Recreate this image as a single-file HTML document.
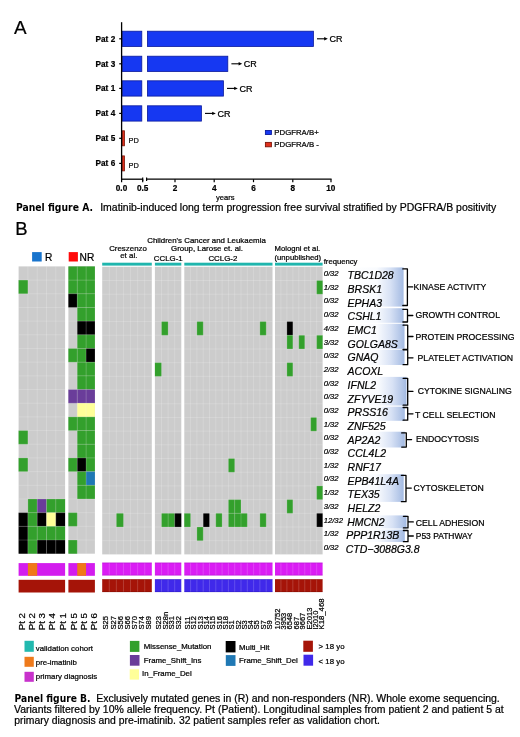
<!DOCTYPE html>
<html lang="en"><head><meta charset="utf-8"><title>Figure</title>
<style>
html,body{margin:0;padding:0;background:#fff;}
body{width:520px;height:737px;overflow:hidden;font-family:"Liberation Sans",Arial,Helvetica,sans-serif;}
svg{display:block;}
svg text{font-family:"Liberation Sans",Arial,Helvetica,sans-serif;stroke:#000;stroke-width:0.22px;stroke-linejoin:round;}
</style></head><body>
<svg width="520" height="737" viewBox="0 0 520 737">
<rect width="520" height="737" fill="#fff"/>
<g id="panelA">
<text x="13.90" y="33.90" font-size="18.9">A</text>
<text x="115.20" y="41.50" font-size="8.2" text-anchor="end" font-weight="bold">Pat 2</text>
<line x1="119.20" y1="38.80" x2="121.60" y2="38.80" stroke="#000" stroke-width="1.2"/>
<rect x="122.20" y="31.20" width="19.60" height="15.30" fill="#1638f2" stroke="#0a1a9c" stroke-width="0.8"/>
<rect x="147.40" y="31.20" width="166.00" height="15.30" fill="#1638f2" stroke="#0a1a9c" stroke-width="0.8"/>
<line x1="317.00" y1="38.80" x2="325.30" y2="38.80" stroke="#000" stroke-width="1.1"/>
<path d="M327.80 38.80 L324.20 37.10 L324.20 40.50 Z" fill="#000"/>
<text x="329.40" y="42.10" font-size="9">CR</text>
<text x="115.20" y="66.50" font-size="8.2" text-anchor="end" font-weight="bold">Pat 3</text>
<line x1="119.20" y1="63.80" x2="121.60" y2="63.80" stroke="#000" stroke-width="1.2"/>
<rect x="122.20" y="56.20" width="19.60" height="15.30" fill="#1638f2" stroke="#0a1a9c" stroke-width="0.8"/>
<rect x="147.40" y="56.20" width="80.40" height="15.30" fill="#1638f2" stroke="#0a1a9c" stroke-width="0.8"/>
<line x1="231.40" y1="63.80" x2="239.70" y2="63.80" stroke="#000" stroke-width="1.1"/>
<path d="M242.20 63.80 L238.60 62.10 L238.60 65.50 Z" fill="#000"/>
<text x="243.80" y="67.10" font-size="9">CR</text>
<text x="115.20" y="91.10" font-size="8.2" text-anchor="end" font-weight="bold">Pat 1</text>
<line x1="119.20" y1="88.40" x2="121.60" y2="88.40" stroke="#000" stroke-width="1.2"/>
<rect x="122.20" y="80.80" width="19.60" height="15.30" fill="#1638f2" stroke="#0a1a9c" stroke-width="0.8"/>
<rect x="147.40" y="80.80" width="76.00" height="15.30" fill="#1638f2" stroke="#0a1a9c" stroke-width="0.8"/>
<line x1="227.00" y1="88.40" x2="235.30" y2="88.40" stroke="#000" stroke-width="1.1"/>
<path d="M237.80 88.40 L234.20 86.70 L234.20 90.10 Z" fill="#000"/>
<text x="239.40" y="91.70" font-size="9">CR</text>
<text x="115.20" y="116.10" font-size="8.2" text-anchor="end" font-weight="bold">Pat 4</text>
<line x1="119.20" y1="113.40" x2="121.60" y2="113.40" stroke="#000" stroke-width="1.2"/>
<rect x="122.20" y="105.80" width="19.60" height="15.30" fill="#1638f2" stroke="#0a1a9c" stroke-width="0.8"/>
<rect x="147.40" y="105.80" width="54.00" height="15.30" fill="#1638f2" stroke="#0a1a9c" stroke-width="0.8"/>
<line x1="205.00" y1="113.40" x2="213.30" y2="113.40" stroke="#000" stroke-width="1.1"/>
<path d="M215.80 113.40 L212.20 111.70 L212.20 115.10 Z" fill="#000"/>
<text x="217.40" y="116.70" font-size="9">CR</text>
<text x="115.20" y="141.00" font-size="8.2" text-anchor="end" font-weight="bold">Pat 5</text>
<line x1="119.20" y1="138.30" x2="121.60" y2="138.30" stroke="#000" stroke-width="1.2"/>
<rect x="122.10" y="130.80" width="2.40" height="15.00" fill="#e0301c" stroke="#7a1408" stroke-width="0.8"/>
<text x="128.60" y="142.50" font-size="7.4" fill="#222">PD</text>
<text x="115.20" y="166.10" font-size="8.2" text-anchor="end" font-weight="bold">Pat 6</text>
<line x1="119.20" y1="163.40" x2="121.60" y2="163.40" stroke="#000" stroke-width="1.2"/>
<rect x="122.10" y="155.90" width="2.40" height="15.00" fill="#e0301c" stroke="#7a1408" stroke-width="0.8"/>
<text x="128.60" y="167.60" font-size="7.4" fill="#222">PD</text>
<line x1="121.60" y1="22.20" x2="121.60" y2="179.80" stroke="#000" stroke-width="1.3"/>
<line x1="121.00" y1="179.20" x2="142.80" y2="179.20" stroke="#000" stroke-width="1.3"/>
<line x1="142.70" y1="177.60" x2="142.70" y2="181.00" stroke="#000" stroke-width="1.2"/>
<line x1="146.60" y1="177.60" x2="146.60" y2="181.00" stroke="#000" stroke-width="1.2"/>
<line x1="146.00" y1="179.20" x2="331.60" y2="179.20" stroke="#000" stroke-width="1.3"/>
<line x1="121.60" y1="179.20" x2="121.60" y2="182.20" stroke="#000" stroke-width="1.2"/>
<line x1="142.70" y1="179.20" x2="142.70" y2="182.20" stroke="#000" stroke-width="1.2"/>
<line x1="175.00" y1="179.20" x2="175.00" y2="182.20" stroke="#000" stroke-width="1.2"/>
<line x1="214.20" y1="179.20" x2="214.20" y2="182.20" stroke="#000" stroke-width="1.2"/>
<line x1="253.50" y1="179.20" x2="253.50" y2="182.20" stroke="#000" stroke-width="1.2"/>
<line x1="292.80" y1="179.20" x2="292.80" y2="182.20" stroke="#000" stroke-width="1.2"/>
<line x1="331.00" y1="179.20" x2="331.00" y2="182.20" stroke="#000" stroke-width="1.2"/>
<text x="121.50" y="190.50" font-size="8.2" text-anchor="middle" font-weight="bold">0.0</text>
<text x="142.60" y="190.50" font-size="8.2" text-anchor="middle" font-weight="bold">0.5</text>
<text x="175.00" y="190.50" font-size="8.2" text-anchor="middle" font-weight="bold">2</text>
<text x="214.20" y="190.50" font-size="8.2" text-anchor="middle" font-weight="bold">4</text>
<text x="253.50" y="190.50" font-size="8.2" text-anchor="middle" font-weight="bold">6</text>
<text x="292.80" y="190.50" font-size="8.2" text-anchor="middle" font-weight="bold">8</text>
<text x="330.80" y="190.50" font-size="8.2" text-anchor="middle" font-weight="bold">10</text>
<text x="225.20" y="200.20" font-size="7.6" text-anchor="middle">years</text>
<rect x="265.4" y="130.5" width="6.0" height="4.0" fill="#1638f2" stroke="#0a1a9c" stroke-width="0.9"/>
<text x="274.30" y="135.10" font-size="7.8">PDGFRA/B+</text>
<rect x="265.4" y="142.4" width="6.0" height="4.4" fill="#e0301c" stroke="#7a1408" stroke-width="0.9"/>
<text x="274.30" y="147.20" font-size="7.8">PDGFRA/B -</text>
</g>
<g id="capA">
<text x="16.0" y="210.5" font-size="10.3" style="font-family:'DejaVu Sans Condensed','DejaVu Sans',Verdana,sans-serif;stroke:none" font-weight="bold" textLength="77" lengthAdjust="spacingAndGlyphs">Panel figure A.</text>
<text x="100.20" y="210.50" font-size="10.45" textLength="396.00" lengthAdjust="spacingAndGlyphs">Imatinib-induced long term progression free survival stratified by PDGFRA/B positivity</text>
</g>
<g id="panelB">
<text x="15.20" y="234.60" font-size="18.5">B</text>
<rect x="18.60" y="266.40" width="46.50" height="287.30" fill="#cccccc"/>
<rect x="18.60" y="280.08" width="9.30" height="13.68" fill="#33a02c"/>
<rect x="18.60" y="430.57" width="9.30" height="13.68" fill="#33a02c"/>
<rect x="18.60" y="457.93" width="9.30" height="13.68" fill="#33a02c"/>
<rect x="27.90" y="498.98" width="9.30" height="13.68" fill="#33a02c"/>
<rect x="37.20" y="498.98" width="9.30" height="13.68" fill="#6a3d9a"/>
<rect x="46.50" y="498.98" width="9.30" height="13.68" fill="#33a02c"/>
<rect x="55.80" y="498.98" width="9.30" height="13.68" fill="#33a02c"/>
<rect x="18.60" y="512.66" width="9.30" height="13.68" fill="#000000"/>
<rect x="27.90" y="512.66" width="9.30" height="13.68" fill="#33a02c"/>
<rect x="37.20" y="512.66" width="9.30" height="13.68" fill="#000000"/>
<rect x="46.50" y="512.66" width="9.30" height="13.68" fill="#ffff99"/>
<rect x="55.80" y="512.66" width="9.30" height="13.68" fill="#000000"/>
<rect x="18.60" y="526.34" width="9.30" height="13.68" fill="#000000"/>
<rect x="27.90" y="526.34" width="9.30" height="13.68" fill="#33a02c"/>
<rect x="37.20" y="526.34" width="9.30" height="13.68" fill="#33a02c"/>
<rect x="46.50" y="526.34" width="9.30" height="13.68" fill="#33a02c"/>
<rect x="55.80" y="526.34" width="9.30" height="13.68" fill="#33a02c"/>
<rect x="18.60" y="540.02" width="9.30" height="13.68" fill="#000000"/>
<rect x="27.90" y="540.02" width="9.30" height="13.68" fill="#33a02c"/>
<rect x="37.20" y="540.02" width="9.30" height="13.68" fill="#000000"/>
<rect x="46.50" y="540.02" width="9.30" height="13.68" fill="#000000"/>
<rect x="55.80" y="540.02" width="9.30" height="13.68" fill="#000000"/>
<path d="M27.90 266.40V553.70M37.20 266.40V553.70M46.50 266.40V553.70M55.80 266.40V553.70M18.60 280.08H65.10M18.60 293.76H65.10M18.60 307.44H65.10M18.60 321.12H65.10M18.60 334.80H65.10M18.60 348.49H65.10M18.60 362.17H65.10M18.60 375.85H65.10M18.60 389.53H65.10M18.60 403.21H65.10M18.60 416.89H65.10M18.60 430.57H65.10M18.60 444.25H65.10M18.60 457.93H65.10M18.60 471.61H65.10M18.60 485.30H65.10M18.60 498.98H65.10M18.60 512.66H65.10M18.60 526.34H65.10M18.60 540.02H65.10" stroke="#fff" stroke-width="0.45" stroke-opacity="0.4" fill="none"/>
<rect x="68.40" y="266.40" width="26.50" height="287.30" fill="#cccccc"/>
<rect x="68.40" y="266.40" width="8.83" height="13.68" fill="#33a02c"/>
<rect x="77.23" y="266.40" width="8.83" height="13.68" fill="#33a02c"/>
<rect x="86.07" y="266.40" width="8.83" height="13.68" fill="#33a02c"/>
<rect x="68.40" y="280.08" width="8.83" height="13.68" fill="#33a02c"/>
<rect x="77.23" y="280.08" width="8.83" height="13.68" fill="#33a02c"/>
<rect x="86.07" y="280.08" width="8.83" height="13.68" fill="#33a02c"/>
<rect x="68.40" y="293.76" width="8.83" height="13.68" fill="#000000"/>
<rect x="77.23" y="293.76" width="8.83" height="13.68" fill="#33a02c"/>
<rect x="86.07" y="293.76" width="8.83" height="13.68" fill="#33a02c"/>
<rect x="77.23" y="307.44" width="8.83" height="13.68" fill="#33a02c"/>
<rect x="86.07" y="307.44" width="8.83" height="13.68" fill="#33a02c"/>
<rect x="77.23" y="321.12" width="8.83" height="13.68" fill="#000000"/>
<rect x="86.07" y="321.12" width="8.83" height="13.68" fill="#000000"/>
<rect x="77.23" y="334.80" width="8.83" height="13.68" fill="#33a02c"/>
<rect x="86.07" y="334.80" width="8.83" height="13.68" fill="#33a02c"/>
<rect x="68.40" y="348.49" width="8.83" height="13.68" fill="#33a02c"/>
<rect x="77.23" y="348.49" width="8.83" height="13.68" fill="#33a02c"/>
<rect x="86.07" y="348.49" width="8.83" height="13.68" fill="#000000"/>
<rect x="77.23" y="362.17" width="8.83" height="13.68" fill="#33a02c"/>
<rect x="86.07" y="362.17" width="8.83" height="13.68" fill="#33a02c"/>
<rect x="77.23" y="375.85" width="8.83" height="13.68" fill="#33a02c"/>
<rect x="86.07" y="375.85" width="8.83" height="13.68" fill="#33a02c"/>
<rect x="68.40" y="389.53" width="8.83" height="13.68" fill="#6a3d9a"/>
<rect x="77.23" y="389.53" width="8.83" height="13.68" fill="#6a3d9a"/>
<rect x="86.07" y="389.53" width="8.83" height="13.68" fill="#6a3d9a"/>
<rect x="77.23" y="403.21" width="8.83" height="13.68" fill="#ffff99"/>
<rect x="86.07" y="403.21" width="8.83" height="13.68" fill="#ffff99"/>
<rect x="68.40" y="416.89" width="8.83" height="13.68" fill="#33a02c"/>
<rect x="77.23" y="416.89" width="8.83" height="13.68" fill="#33a02c"/>
<rect x="86.07" y="416.89" width="8.83" height="13.68" fill="#33a02c"/>
<rect x="77.23" y="430.57" width="8.83" height="13.68" fill="#33a02c"/>
<rect x="86.07" y="430.57" width="8.83" height="13.68" fill="#33a02c"/>
<rect x="77.23" y="444.25" width="8.83" height="13.68" fill="#33a02c"/>
<rect x="86.07" y="444.25" width="8.83" height="13.68" fill="#33a02c"/>
<rect x="68.40" y="457.93" width="8.83" height="13.68" fill="#33a02c"/>
<rect x="77.23" y="457.93" width="8.83" height="13.68" fill="#000000"/>
<rect x="86.07" y="457.93" width="8.83" height="13.68" fill="#33a02c"/>
<rect x="77.23" y="471.61" width="8.83" height="13.68" fill="#33a02c"/>
<rect x="86.07" y="471.61" width="8.83" height="13.68" fill="#1f78b4"/>
<rect x="77.23" y="485.30" width="8.83" height="13.68" fill="#33a02c"/>
<rect x="86.07" y="485.30" width="8.83" height="13.68" fill="#33a02c"/>
<rect x="68.40" y="512.66" width="8.83" height="13.68" fill="#33a02c"/>
<rect x="68.40" y="540.02" width="8.83" height="13.68" fill="#33a02c"/>
<path d="M77.23 266.40V553.70M86.07 266.40V553.70M68.40 280.08H94.90M68.40 293.76H94.90M68.40 307.44H94.90M68.40 321.12H94.90M68.40 334.80H94.90M68.40 348.49H94.90M68.40 362.17H94.90M68.40 375.85H94.90M68.40 389.53H94.90M68.40 403.21H94.90M68.40 416.89H94.90M68.40 430.57H94.90M68.40 444.25H94.90M68.40 457.93H94.90M68.40 471.61H94.90M68.40 485.30H94.90M68.40 498.98H94.90M68.40 512.66H94.90M68.40 526.34H94.90M68.40 540.02H94.90" stroke="#fff" stroke-width="0.45" stroke-opacity="0.4" fill="none"/>
<rect x="102.20" y="266.80" width="49.60" height="287.60" fill="#cccccc"/>
<rect x="116.37" y="513.31" width="7.09" height="13.70" fill="#33a02c"/>
<path d="M109.29 266.80V554.40M116.37 266.80V554.40M123.46 266.80V554.40M130.54 266.80V554.40M137.63 266.80V554.40M144.71 266.80V554.40M102.20 280.50H151.80M102.20 294.19H151.80M102.20 307.89H151.80M102.20 321.58H151.80M102.20 335.28H151.80M102.20 348.97H151.80M102.20 362.67H151.80M102.20 376.36H151.80M102.20 390.06H151.80M102.20 403.75H151.80M102.20 417.45H151.80M102.20 431.14H151.80M102.20 444.84H151.80M102.20 458.53H151.80M102.20 472.23H151.80M102.20 485.92H151.80M102.20 499.62H151.80M102.20 513.31H151.80M102.20 527.01H151.80M102.20 540.70H151.80" stroke="#fff" stroke-width="0.45" stroke-opacity="0.4" fill="none"/>
<rect x="154.90" y="266.80" width="26.40" height="287.60" fill="#cccccc"/>
<rect x="161.50" y="321.58" width="6.60" height="13.70" fill="#33a02c"/>
<rect x="154.90" y="362.67" width="6.60" height="13.70" fill="#33a02c"/>
<rect x="161.50" y="513.31" width="6.60" height="13.70" fill="#33a02c"/>
<rect x="168.10" y="513.31" width="6.60" height="13.70" fill="#33a02c"/>
<rect x="174.70" y="513.31" width="6.60" height="13.70" fill="#000000"/>
<path d="M161.50 266.80V554.40M168.10 266.80V554.40M174.70 266.80V554.40M154.90 280.50H181.30M154.90 294.19H181.30M154.90 307.89H181.30M154.90 321.58H181.30M154.90 335.28H181.30M154.90 348.97H181.30M154.90 362.67H181.30M154.90 376.36H181.30M154.90 390.06H181.30M154.90 403.75H181.30M154.90 417.45H181.30M154.90 431.14H181.30M154.90 444.84H181.30M154.90 458.53H181.30M154.90 472.23H181.30M154.90 485.92H181.30M154.90 499.62H181.30M154.90 513.31H181.30M154.90 527.01H181.30M154.90 540.70H181.30" stroke="#fff" stroke-width="0.45" stroke-opacity="0.4" fill="none"/>
<rect x="184.30" y="266.80" width="88.20" height="287.60" fill="#cccccc"/>
<rect x="196.90" y="321.58" width="6.30" height="13.70" fill="#33a02c"/>
<rect x="259.90" y="321.58" width="6.30" height="13.70" fill="#33a02c"/>
<rect x="228.40" y="458.53" width="6.30" height="13.70" fill="#33a02c"/>
<rect x="228.40" y="499.62" width="6.30" height="13.70" fill="#33a02c"/>
<rect x="234.70" y="499.62" width="6.30" height="13.70" fill="#33a02c"/>
<rect x="184.30" y="513.31" width="6.30" height="13.70" fill="#33a02c"/>
<rect x="203.20" y="513.31" width="6.30" height="13.70" fill="#000000"/>
<rect x="215.80" y="513.31" width="6.30" height="13.70" fill="#33a02c"/>
<rect x="228.40" y="513.31" width="6.30" height="13.70" fill="#33a02c"/>
<rect x="234.70" y="513.31" width="6.30" height="13.70" fill="#33a02c"/>
<rect x="241.00" y="513.31" width="6.30" height="13.70" fill="#33a02c"/>
<rect x="259.90" y="513.31" width="6.30" height="13.70" fill="#33a02c"/>
<rect x="196.90" y="527.01" width="6.30" height="13.70" fill="#33a02c"/>
<path d="M190.60 266.80V554.40M196.90 266.80V554.40M203.20 266.80V554.40M209.50 266.80V554.40M215.80 266.80V554.40M222.10 266.80V554.40M228.40 266.80V554.40M234.70 266.80V554.40M241.00 266.80V554.40M247.30 266.80V554.40M253.60 266.80V554.40M259.90 266.80V554.40M266.20 266.80V554.40M184.30 280.50H272.50M184.30 294.19H272.50M184.30 307.89H272.50M184.30 321.58H272.50M184.30 335.28H272.50M184.30 348.97H272.50M184.30 362.67H272.50M184.30 376.36H272.50M184.30 390.06H272.50M184.30 403.75H272.50M184.30 417.45H272.50M184.30 431.14H272.50M184.30 444.84H272.50M184.30 458.53H272.50M184.30 472.23H272.50M184.30 485.92H272.50M184.30 499.62H272.50M184.30 513.31H272.50M184.30 527.01H272.50M184.30 540.70H272.50" stroke="#fff" stroke-width="0.45" stroke-opacity="0.4" fill="none"/>
<rect x="275.00" y="266.80" width="47.60" height="287.60" fill="#cccccc"/>
<rect x="316.65" y="280.50" width="5.95" height="13.70" fill="#33a02c"/>
<rect x="286.90" y="321.58" width="5.95" height="13.70" fill="#000000"/>
<rect x="286.90" y="335.28" width="5.95" height="13.70" fill="#33a02c"/>
<rect x="298.80" y="335.28" width="5.95" height="13.70" fill="#33a02c"/>
<rect x="316.65" y="335.28" width="5.95" height="13.70" fill="#33a02c"/>
<rect x="286.90" y="362.67" width="5.95" height="13.70" fill="#33a02c"/>
<rect x="310.70" y="417.45" width="5.95" height="13.70" fill="#33a02c"/>
<rect x="316.65" y="485.92" width="5.95" height="13.70" fill="#33a02c"/>
<rect x="286.90" y="499.62" width="5.95" height="13.70" fill="#33a02c"/>
<rect x="316.65" y="513.31" width="5.95" height="13.70" fill="#000000"/>
<path d="M280.95 266.80V554.40M286.90 266.80V554.40M292.85 266.80V554.40M298.80 266.80V554.40M304.75 266.80V554.40M310.70 266.80V554.40M316.65 266.80V554.40M275.00 280.50H322.60M275.00 294.19H322.60M275.00 307.89H322.60M275.00 321.58H322.60M275.00 335.28H322.60M275.00 348.97H322.60M275.00 362.67H322.60M275.00 376.36H322.60M275.00 390.06H322.60M275.00 403.75H322.60M275.00 417.45H322.60M275.00 431.14H322.60M275.00 444.84H322.60M275.00 458.53H322.60M275.00 472.23H322.60M275.00 485.92H322.60M275.00 499.62H322.60M275.00 513.31H322.60M275.00 527.01H322.60M275.00 540.70H322.60" stroke="#fff" stroke-width="0.45" stroke-opacity="0.4" fill="none"/>
<rect x="18.60" y="563.10" width="46.50" height="12.70" fill="#d31cee"/>
<rect x="27.90" y="563.10" width="9.30" height="12.70" fill="#f07818"/>
<rect x="18.60" y="579.80" width="46.50" height="12.70" fill="#a51408"/>
<rect x="68.40" y="563.10" width="26.50" height="12.70" fill="#d31cee"/>
<rect x="77.23" y="563.10" width="8.83" height="12.70" fill="#f07818"/>
<rect x="68.40" y="579.80" width="26.50" height="12.70" fill="#a51408"/>
<rect x="102.20" y="562.70" width="49.60" height="12.70" fill="#da1cf4"/>
<rect x="102.20" y="579.30" width="49.60" height="12.70" fill="#a51408"/>
<path d="M109.29 562.70V575.40M109.29 579.30V592.00M116.37 562.70V575.40M116.37 579.30V592.00M123.46 562.70V575.40M123.46 579.30V592.00M130.54 562.70V575.40M130.54 579.30V592.00M137.63 562.70V575.40M137.63 579.30V592.00M144.71 562.70V575.40M144.71 579.30V592.00" stroke="#fff" stroke-width="0.4" stroke-opacity="0.45" fill="none"/>
<path d="M102.20 562.95H151.80M102.20 575.15H151.80" stroke="#9c14b4" stroke-width="0.5" stroke-opacity="0.7" fill="none"/>
<path d="M102.20 579.55H151.80M102.20 591.75H151.80" stroke="#6e0a04" stroke-width="0.5" stroke-opacity="0.7" fill="none"/>
<rect x="102.20" y="262.70" width="49.60" height="2.90" fill="#1fb5ad"/>
<rect x="154.90" y="562.70" width="26.40" height="12.70" fill="#da1cf4"/>
<rect x="154.90" y="579.30" width="26.40" height="12.70" fill="#4029ea"/>
<path d="M161.50 562.70V575.40M161.50 579.30V592.00M168.10 562.70V575.40M168.10 579.30V592.00M174.70 562.70V575.40M174.70 579.30V592.00" stroke="#fff" stroke-width="0.4" stroke-opacity="0.45" fill="none"/>
<path d="M154.90 562.95H181.30M154.90 575.15H181.30" stroke="#9c14b4" stroke-width="0.5" stroke-opacity="0.7" fill="none"/>
<path d="M154.90 579.55H181.30M154.90 591.75H181.30" stroke="#2414a8" stroke-width="0.5" stroke-opacity="0.7" fill="none"/>
<rect x="154.90" y="262.70" width="26.40" height="2.90" fill="#1fb5ad"/>
<rect x="184.30" y="562.70" width="88.20" height="12.70" fill="#da1cf4"/>
<rect x="184.30" y="579.30" width="88.20" height="12.70" fill="#4029ea"/>
<path d="M190.60 562.70V575.40M190.60 579.30V592.00M196.90 562.70V575.40M196.90 579.30V592.00M203.20 562.70V575.40M203.20 579.30V592.00M209.50 562.70V575.40M209.50 579.30V592.00M215.80 562.70V575.40M215.80 579.30V592.00M222.10 562.70V575.40M222.10 579.30V592.00M228.40 562.70V575.40M228.40 579.30V592.00M234.70 562.70V575.40M234.70 579.30V592.00M241.00 562.70V575.40M241.00 579.30V592.00M247.30 562.70V575.40M247.30 579.30V592.00M253.60 562.70V575.40M253.60 579.30V592.00M259.90 562.70V575.40M259.90 579.30V592.00M266.20 562.70V575.40M266.20 579.30V592.00" stroke="#fff" stroke-width="0.4" stroke-opacity="0.45" fill="none"/>
<path d="M184.30 562.95H272.50M184.30 575.15H272.50" stroke="#9c14b4" stroke-width="0.5" stroke-opacity="0.7" fill="none"/>
<path d="M184.30 579.55H272.50M184.30 591.75H272.50" stroke="#2414a8" stroke-width="0.5" stroke-opacity="0.7" fill="none"/>
<rect x="184.30" y="262.70" width="88.20" height="2.90" fill="#1fb5ad"/>
<rect x="275.00" y="562.70" width="47.60" height="12.70" fill="#da1cf4"/>
<rect x="275.00" y="579.30" width="47.60" height="12.70" fill="#a51408"/>
<path d="M280.95 562.70V575.40M280.95 579.30V592.00M286.90 562.70V575.40M286.90 579.30V592.00M292.85 562.70V575.40M292.85 579.30V592.00M298.80 562.70V575.40M298.80 579.30V592.00M304.75 562.70V575.40M304.75 579.30V592.00M310.70 562.70V575.40M310.70 579.30V592.00M316.65 562.70V575.40M316.65 579.30V592.00" stroke="#fff" stroke-width="0.4" stroke-opacity="0.45" fill="none"/>
<path d="M275.00 562.95H322.60M275.00 575.15H322.60" stroke="#9c14b4" stroke-width="0.5" stroke-opacity="0.7" fill="none"/>
<path d="M275.00 579.55H322.60M275.00 591.75H322.60" stroke="#6e0a04" stroke-width="0.5" stroke-opacity="0.7" fill="none"/>
<rect x="275.00" y="262.70" width="47.60" height="2.90" fill="#1fb5ad"/>
<rect x="32.10" y="252.10" width="9.60" height="9.40" fill="#1874cd"/>
<text x="45.00" y="260.90" font-size="10.2">R</text>
<rect x="68.70" y="252.10" width="9.20" height="9.40" fill="#ff0a0a"/>
<text x="79.60" y="260.90" font-size="10.2">NR</text>
<text x="128.00" y="251.30" font-size="7.9" text-anchor="middle">Creszenzo</text>
<text x="128.80" y="258.00" font-size="7.9" text-anchor="middle">et al.</text>
<text x="206.50" y="242.90" font-size="7.9" text-anchor="middle">Children's Cancer and Leukaemia</text>
<text x="207.00" y="251.00" font-size="7.9" text-anchor="middle">Group, Larose et. al.</text>
<text x="168.30" y="260.80" font-size="7.9" text-anchor="middle">CCLG-1</text>
<text x="222.90" y="260.80" font-size="7.9" text-anchor="middle">CCLG-2</text>
<text x="274.50" y="251.15" font-size="7.7">Mologni et al.</text>
<text x="274.50" y="259.60" font-size="7.7">(unpublished)</text>
<text x="323.70" y="264.00" font-size="7.7">frequency</text>
<defs><linearGradient id="gb" x1="0" x2="1" y1="0" y2="0"><stop offset="0" stop-color="#ffffff"/><stop offset="0.5" stop-color="#f9fbfe"/><stop offset="0.75" stop-color="#d8e2f5"/><stop offset="1" stop-color="#a3bae2"/></linearGradient></defs>
<rect x="350.00" y="267.40" width="53.60" height="39.20" fill="url(#gb)"/>
<rect x="350.00" y="308.20" width="53.60" height="14.60" fill="url(#gb)"/>
<rect x="350.00" y="323.80" width="54.50" height="25.00" fill="url(#gb)"/>
<rect x="350.00" y="349.70" width="54.50" height="15.30" fill="url(#gb)"/>
<rect x="350.00" y="376.90" width="56.50" height="28.60" fill="url(#gb)"/>
<rect x="350.00" y="406.70" width="54.80" height="14.10" fill="url(#gb)"/>
<rect x="350.00" y="431.70" width="54.80" height="15.80" fill="url(#gb)"/>
<rect x="350.00" y="474.20" width="53.70" height="27.70" fill="url(#gb)"/>
<rect x="350.00" y="515.40" width="56.50" height="13.10" fill="url(#gb)"/>
<rect x="350.00" y="529.60" width="54.80" height="12.40" fill="url(#gb)"/>
<text x="323.70" y="276.10" font-size="7.7" font-style="italic">0/32</text>
<text x="347.60" y="279.30" font-size="10.5" font-style="italic">TBC1D28</text>
<text x="323.70" y="289.79" font-size="7.7" font-style="italic">1/32</text>
<text x="347.60" y="292.99" font-size="10.5" font-style="italic">BRSK1</text>
<text x="323.70" y="303.48" font-size="7.7" font-style="italic">0/32</text>
<text x="347.60" y="306.68" font-size="10.5" font-style="italic">EPHA3</text>
<text x="323.70" y="317.17" font-size="7.7" font-style="italic">0/32</text>
<text x="347.60" y="320.37" font-size="10.5" font-style="italic">CSHL1</text>
<text x="323.70" y="330.86" font-size="7.7" font-style="italic">4/32</text>
<text x="347.60" y="334.06" font-size="10.5" font-style="italic">EMC1</text>
<text x="323.70" y="344.55" font-size="7.7" font-style="italic">3/32</text>
<text x="347.60" y="347.75" font-size="10.5" font-style="italic">GOLGA8S</text>
<text x="323.70" y="358.24" font-size="7.7" font-style="italic">0/32</text>
<text x="347.60" y="361.44" font-size="10.5" font-style="italic">GNAQ</text>
<text x="323.70" y="371.93" font-size="7.7" font-style="italic">2/32</text>
<text x="347.60" y="375.13" font-size="10.5" font-style="italic">ACOXL</text>
<text x="323.70" y="385.62" font-size="7.7" font-style="italic">0/32</text>
<text x="347.60" y="388.82" font-size="10.5" font-style="italic">IFNL2</text>
<text x="323.70" y="399.31" font-size="7.7" font-style="italic">0/32</text>
<text x="347.60" y="402.51" font-size="10.5" font-style="italic">ZFYVE19</text>
<text x="323.70" y="413.00" font-size="7.7" font-style="italic">0/32</text>
<text x="347.60" y="416.20" font-size="10.5" font-style="italic">PRSS16</text>
<text x="323.70" y="426.69" font-size="7.7" font-style="italic">1/32</text>
<text x="347.60" y="429.89" font-size="10.5" font-style="italic">ZNF525</text>
<text x="323.70" y="440.38" font-size="7.7" font-style="italic">0/32</text>
<text x="347.60" y="443.58" font-size="10.5" font-style="italic">AP2A2</text>
<text x="323.70" y="454.07" font-size="7.7" font-style="italic">0/32</text>
<text x="347.60" y="457.27" font-size="10.5" font-style="italic">CCL4L2</text>
<text x="323.70" y="467.76" font-size="7.7" font-style="italic">1/32</text>
<text x="347.60" y="470.96" font-size="10.5" font-style="italic">RNF17</text>
<text x="323.70" y="481.45" font-size="7.7" font-style="italic">0/32</text>
<text x="347.60" y="484.65" font-size="10.5" font-style="italic">EPB41L4A</text>
<text x="323.70" y="495.14" font-size="7.7" font-style="italic">1/32</text>
<text x="347.60" y="498.34" font-size="10.5" font-style="italic">TEX35</text>
<text x="323.70" y="508.83" font-size="7.7" font-style="italic">3/32</text>
<text x="347.60" y="512.03" font-size="10.5" font-style="italic">HELZ2</text>
<text x="323.70" y="522.52" font-size="7.7" font-style="italic">12/32</text>
<text x="347.20" y="525.72" font-size="10.5" font-style="italic">HMCN2</text>
<text x="323.70" y="536.21" font-size="7.7" font-style="italic">1/32</text>
<text x="346.20" y="539.41" font-size="10.5" font-style="italic">PPP1R13B</text>
<text x="323.70" y="549.90" font-size="7.7" font-style="italic">0/32</text>
<text x="345.70" y="553.10" font-size="10.5" font-style="italic">CTD&#8722;3088G3.8</text>
<path d="M402.80 268.90H407.40V305.50H402.80M407.40 286.90H412.70" stroke="#000" stroke-width="1.3" stroke-linejoin="round" stroke-linecap="round" fill="none"/>
<text x="413.50" y="290.40" font-size="8.7">KINASE ACTIVITY</text>
<path d="M402.90 309.40H407.50V322.00H402.90M407.50 315.50H412.80" stroke="#000" stroke-width="1.3" stroke-linejoin="round" stroke-linecap="round" fill="none"/>
<text x="415.50" y="318.40" font-size="8.7">GROWTH CONTROL</text>
<path d="M403.10 325.20H407.70V349.30H403.10M407.70 336.50H413.00" stroke="#000" stroke-width="1.3" stroke-linejoin="round" stroke-linecap="round" fill="none"/>
<text x="415.50" y="340.10" font-size="8.7">PROTEIN PROCESSING</text>
<path d="M403.10 349.80H407.70V364.70H403.10M407.70 357.80H413.00" stroke="#000" stroke-width="1.3" stroke-linejoin="round" stroke-linecap="round" fill="none"/>
<text x="417.50" y="360.50" font-size="8.7">PLATELET ACTIVATION</text>
<path d="M403.10 378.30H407.70V405.20H403.10M407.70 391.30H413.00" stroke="#000" stroke-width="1.3" stroke-linejoin="round" stroke-linecap="round" fill="none"/>
<text x="417.80" y="393.60" font-size="8.7">CYTOKINE SIGNALING</text>
<path d="M403.10 407.50H407.70V420.20H403.10M407.70 413.80H413.00" stroke="#000" stroke-width="1.3" stroke-linejoin="round" stroke-linecap="round" fill="none"/>
<text x="415.00" y="417.60" font-size="8.7">T CELL SELECTION</text>
<path d="M401.70 432.90H406.30V447.10H401.70M406.30 439.60H411.60" stroke="#000" stroke-width="1.3" stroke-linejoin="round" stroke-linecap="round" fill="none"/>
<text x="416.00" y="441.60" font-size="8.7">ENDOCYTOSIS</text>
<path d="M401.40 475.40H406.00V501.70H401.40M406.00 488.10H411.30" stroke="#000" stroke-width="1.3" stroke-linejoin="round" stroke-linecap="round" fill="none"/>
<text x="413.50" y="491.10" font-size="8.7">CYTOSKELETON</text>
<path d="M403.40 516.30H408.00V527.90H403.40M408.00 521.90H413.30" stroke="#000" stroke-width="1.3" stroke-linejoin="round" stroke-linecap="round" fill="none"/>
<text x="415.80" y="525.50" font-size="8.7">CELL ADHESION</text>
<path d="M403.40 530.50H408.00V541.70H403.40M408.00 536.00H413.30" stroke="#000" stroke-width="1.3" stroke-linejoin="round" stroke-linecap="round" fill="none"/>
<text x="415.80" y="539.30" font-size="8.45">P53 PATHWAY</text>
<text transform="translate(25.00 630.3) rotate(-90)" font-size="9.7" textLength="17.3" lengthAdjust="spacing">Pt 2</text>
<text transform="translate(35.10 630.3) rotate(-90)" font-size="9.7" textLength="17.3" lengthAdjust="spacing">Pt 2</text>
<text transform="translate(45.20 630.3) rotate(-90)" font-size="9.7" textLength="17.3" lengthAdjust="spacing">Pt 3</text>
<text transform="translate(55.40 630.3) rotate(-90)" font-size="9.7" textLength="17.3" lengthAdjust="spacing">Pt 4</text>
<text transform="translate(65.50 630.3) rotate(-90)" font-size="9.7" textLength="17.3" lengthAdjust="spacing">Pt 1</text>
<text transform="translate(76.70 630.3) rotate(-90)" font-size="9.7" textLength="17.3" lengthAdjust="spacing">Pt 5</text>
<text transform="translate(86.90 630.3) rotate(-90)" font-size="9.7" textLength="17.3" lengthAdjust="spacing">Pt 5</text>
<text transform="translate(97.00 630.3) rotate(-90)" font-size="9.7" textLength="17.3" lengthAdjust="spacing">Pt 6</text>
<text transform="translate(108.44 629.5) rotate(-90)" font-size="7.55">S25</text>
<text transform="translate(115.53 629.5) rotate(-90)" font-size="7.55">S27</text>
<text transform="translate(122.61 629.5) rotate(-90)" font-size="7.55">S56</text>
<text transform="translate(129.70 629.5) rotate(-90)" font-size="7.55">S66</text>
<text transform="translate(136.79 629.5) rotate(-90)" font-size="7.55">S70</text>
<text transform="translate(143.87 629.5) rotate(-90)" font-size="7.55">S74</text>
<text transform="translate(150.96 629.5) rotate(-90)" font-size="7.55">S89</text>
<text transform="translate(160.90 629.5) rotate(-90)" font-size="7.55">S23</text>
<text transform="translate(167.50 629.5) rotate(-90)" font-size="7.55">S28n</text>
<text transform="translate(174.10 629.5) rotate(-90)" font-size="7.55">S31</text>
<text transform="translate(180.70 629.5) rotate(-90)" font-size="7.55">S32</text>
<text transform="translate(190.15 629.5) rotate(-90)" font-size="7.55">S11</text>
<text transform="translate(196.45 629.5) rotate(-90)" font-size="7.55">S12</text>
<text transform="translate(202.75 629.5) rotate(-90)" font-size="7.55">S13</text>
<text transform="translate(209.05 629.5) rotate(-90)" font-size="7.55">S14</text>
<text transform="translate(215.35 629.5) rotate(-90)" font-size="7.55">S15</text>
<text transform="translate(221.65 629.5) rotate(-90)" font-size="7.55">S16</text>
<text transform="translate(227.95 629.5) rotate(-90)" font-size="7.55">S18</text>
<text transform="translate(234.25 629.5) rotate(-90)" font-size="7.55">S1</text>
<text transform="translate(240.55 629.5) rotate(-90)" font-size="7.55">S2</text>
<text transform="translate(246.85 629.5) rotate(-90)" font-size="7.55">S3</text>
<text transform="translate(253.15 629.5) rotate(-90)" font-size="7.55">S4</text>
<text transform="translate(259.45 629.5) rotate(-90)" font-size="7.55">S5</text>
<text transform="translate(265.75 629.5) rotate(-90)" font-size="7.55">S7</text>
<text transform="translate(272.05 629.5) rotate(-90)" font-size="7.55">S9</text>
<text transform="translate(279.60 629.5) rotate(-90)" font-size="7.55">10752</text>
<text transform="translate(285.98 629.5) rotate(-90)" font-size="7.55">3953</text>
<text transform="translate(292.36 629.5) rotate(-90)" font-size="7.55">6548</text>
<text transform="translate(298.74 629.5) rotate(-90)" font-size="7.55">687</text>
<text transform="translate(305.12 629.5) rotate(-90)" font-size="7.55">9667</text>
<text transform="translate(311.50 629.5) rotate(-90)" font-size="7.55">E2013</text>
<text transform="translate(317.88 629.5) rotate(-90)" font-size="7.55">I2010</text>
<text transform="translate(324.26 629.5) rotate(-90)" font-size="7.55" textLength="31" lengthAdjust="spacingAndGlyphs">K18_468</text>
<rect x="24.50" y="640.80" width="9.30" height="11.00" fill="#22b9af"/>
<text x="35.80" y="651.00" font-size="7.85">validation cohort</text>
<rect x="24.50" y="656.80" width="9.30" height="10.00" fill="#ee7a1c"/>
<text x="35.80" y="664.70" font-size="7.85">pre-imatinib</text>
<rect x="24.50" y="671.80" width="9.30" height="10.00" fill="#c832cc"/>
<text x="35.80" y="678.50" font-size="7.85">primary diagnosis</text>
<rect x="129.90" y="640.90" width="9.50" height="11.00" fill="#33a02c"/>
<text x="143.80" y="649.00" font-size="7.85">Missense_Mutation</text>
<rect x="129.90" y="655.00" width="9.60" height="10.70" fill="#6a3d9a"/>
<text x="143.80" y="662.80" font-size="7.85">Frame_Shift_Ins</text>
<rect x="129.70" y="669.30" width="9.30" height="10.30" fill="#ffff99"/>
<text x="142.00" y="675.70" font-size="7.85">In_Frame_Del</text>
<rect x="225.70" y="641.00" width="9.80" height="11.40" fill="#000000"/>
<text x="239.00" y="650.00" font-size="7.85">Multi_Hit</text>
<rect x="225.80" y="655.10" width="9.70" height="10.80" fill="#1f78b4"/>
<text x="239.00" y="663.40" font-size="7.85">Frame_Shift_Del</text>
<rect x="303.30" y="640.70" width="9.60" height="11.10" fill="#a51408"/>
<text x="318.60" y="649.20" font-size="7.85">&gt; 18 yo</text>
<rect x="303.50" y="654.70" width="9.60" height="11.00" fill="#4029ea"/>
<text x="318.60" y="663.70" font-size="7.85">&lt; 18 yo</text>
</g>
<g id="capB">
<text x="14.6" y="702.0" font-size="10.3" style="font-family:'DejaVu Sans Condensed','DejaVu Sans',Verdana,sans-serif;stroke:none" font-weight="bold" textLength="76" lengthAdjust="spacingAndGlyphs">Panel figure B.</text>
<text x="96.20" y="702.00" font-size="10.45" textLength="403.60" lengthAdjust="spacingAndGlyphs">Exclusively mutated genes in (R) and non-responders (NR). Whole exome sequencing.</text>
<text x="14.00" y="712.80" font-size="10.45" textLength="489.70" lengthAdjust="spacingAndGlyphs">Variants filtered by 10% allele frequency. Pt (Patient). Longitudinal samples from patient 2 and patient 5 at</text>
<text x="14.20" y="723.80" font-size="10.45" textLength="365.80" lengthAdjust="spacingAndGlyphs">primary diagnosis and pre-imatinib. 32 patient samples refer as validation chort.</text>
</g>
</svg>
</body></html>
